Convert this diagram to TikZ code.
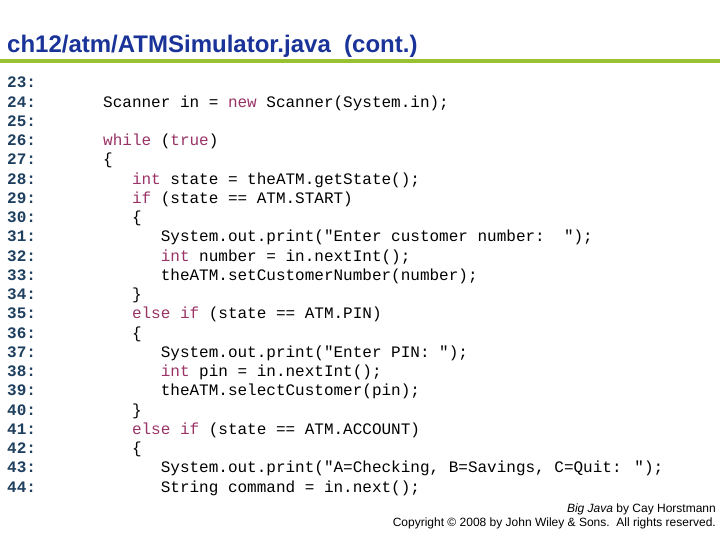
\documentclass[tikz,border=0pt]{standalone}
\usepackage{fontspec}
\setmainfont{Liberation Sans}
\newfontfamily\codefont{Liberation Mono}
\usetikzlibrary{positioning}
\definecolor{TITLEBLUE}{HTML}{1A3399}
\definecolor{RULEGREEN}{HTML}{99C233}
\definecolor{NUMTEAL}{HTML}{1F3F5F}
\definecolor{KWPURPLE}{HTML}{993366}
\newcommand{\kw}[1]{\textcolor{KWPURPLE}{#1}}

\begin{document}
\begin{tikzpicture}[x=1bp, y=-1bp,
        lnum/.style={anchor=base west, inner sep=0pt, font=\codefont\bfseries\fontsize{16bp}{18bp}\selectfont, text=NUMTEAL},
        code/.style={anchor=base west, inner sep=0pt, font=\codefont\fontsize{16bp}{18bp}\selectfont}
      ]
        \useasboundingbox (0,0) rectangle (720,540);
        \node[anchor=base west, inner sep=0pt, font=\bfseries\fontsize{24bp}{28bp}\selectfont, text=TITLEBLUE]
              (title) at (7,53) {ch12/atm/ATMSimulator.java\ \ (cont.)};
        \draw[RULEGREEN, line width=4bp] (0,61) -- (720,61);
        % line numbers
        \foreach \n in {23,...,44}
          \node[lnum] (n\n) at (7,{88+(\n-23)*19.24}) {\n:};
        % code lines: number/indent/text
        \foreach \n/\i/\t in {
            24/0/{Scanner in = \kw{new} Scanner(System.in);},
            26/0/{\kw{while} (\kw{true})},
            27/0/{\{},
            28/1/{\kw{int} state = theATM.getState();},
            29/1/{\kw{if} (state == ATM.START)},
            30/1/{\{},
            31/2/{System.out.print("Enter customer number:\ \ ");},
            32/2/{\kw{int} number = in.nextInt();},
            33/2/{theATM.setCustomerNumber(number);},
            34/1/{\}},
            35/1/{\kw{else} \kw{if} (state == ATM.PIN)},
            36/1/{\{},
            37/2/{System.out.print("Enter PIN: ");},
            38/2/{\kw{int} pin = in.nextInt();},
            39/2/{theATM.selectCustomer(pin);},
            40/1/{\}},
            41/1/{\kw{else} \kw{if} (state == ATM.ACCOUNT)},
            42/1/{\{},
            43/2/{System.out.print("A=Checking, B=Savings, C=Quit: ");},
            44/2/{String command = in.next();}}
          \node[code] (c\n) at ({103+\i*28.8},{88+(\n-23)*19.24}) {\t};
        % footer
        \node[anchor=base east, inner sep=0pt, font=\fontsize{12bp}{14bp}\selectfont]
              (foot) at (716,512) {\textit{Big Java} by Cay Horstmann};
        \node[anchor=base east, inner sep=0pt, font=\fontsize{12bp}{14bp}\selectfont]
              (copy) at (716,526) {Copyright \textcopyright{} 2008 by John Wiley \& Sons.\ \ All rights reserved.};
      \end{tikzpicture}
\end{document}
